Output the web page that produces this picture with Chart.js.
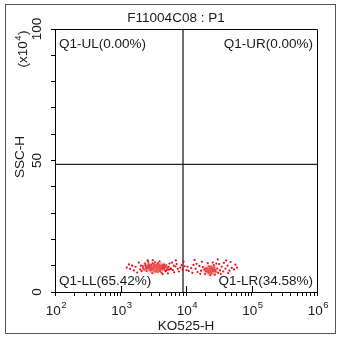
<!DOCTYPE html>
<html>
<head>
<meta charset="utf-8">
<script src="https://cdn.jsdelivr.net/npm/chart.js@4.4.1/dist/chart.umd.min.js"></script>
<style>
  html, body { margin: 0; padding: 0; background: #fff; }
  canvas { display: block; }
</style>
</head>
<body>
<canvas id="plot" width="345" height="345"></canvas>
<script>
// ---- data ----
const plotTitle = 'F11004C08 : P1';
const xTitle = 'KO525-H';
const yTitle = 'SSC-H';
const yUnitParts = ['(x10', '4', ')'];

const xMajorTicks = [100, 1000, 10000, 100000, 1000000];
const xTickExponents = ['2', '3', '4', '5', '6'];
const xMinorTicks = [200, 300, 400, 500, 600, 700, 800, 900,
  2000, 3000, 4000, 5000, 6000, 7000, 8000, 9000,
  20000, 30000, 40000, 50000, 60000, 70000, 80000, 90000,
  200000, 300000, 400000, 500000, 600000, 700000, 800000, 900000];
const yTicks = [0, 10, 20, 30, 40, 50, 60, 70, 80, 90, 100];
const yLabelTicks = [0, 50, 100];

const gateX = 9000;
const gateY = 48.5;
const quadLabels = ['Q1-UL(0.00%)', 'Q1-UR(0.00%)', 'Q1-LL(65.42%)', 'Q1-LR(34.58%)'];

// events in the lower-left population (KO525-H, SSC-H x10^4)
const llEvents = [
  [2600,9.5],[2800,9.0],[3000,9.8],[3200,8.7],[3400,9.3],[3600,9.9],[3800,8.9],[4100,9.4],[4400,8.6],
  [2400,10.2],[2200,9.1],[2000,8.6],[2700,10.6],[3100,10.9],[3500,8.1],[3900,10.3],[4300,9.9],[4700,9.1],
  [5100,8.4],[5400,9.6],[2900,8.2],[2500,8.0],[3300,7.8],[3700,7.6],[4000,8.0],[4600,10.4],[5000,10.1],
  [5800,9.0],[6300,8.3],[6900,9.7],[7500,8.8],[8200,9.3],[1700,9.6],[1500,10.0],[1400,8.8],[1900,11.2],
  [2100,7.9],[2300,8.5],[2650,11.5],[3050,7.2],[3350,11.3],[3750,11.0],[4200,7.4],[4900,7.9],[5600,10.8],
  [6100,11.2],[6600,7.5],[7200,10.6],[7800,7.8],[8600,10.2],[1600,8.2],[1800,7.4],[2450,9.7],[2750,9.3],
  [2950,9.0],[3150,9.6],[3450,9.1],[3650,9.5],[3850,9.7],[4050,8.8],[2550,8.9],[2850,8.6],[3250,10.1],
  [3550,10.4],[4500,9.5],[5200,9.2],[5900,8.7],[6500,10.0],[2350,10.8],[4800,8.2],[3950,11.7],[3100,12.1],
  [2600,12.0],[5300,7.1],[4400,6.8],[2050,10.0],[1250,9.3],[1350,10.5],[7000,12.0],[8900,8.5],[3500,9.3],
  [3000,9.2],[3700,8.5],[4200,10.0],[2800,9.9],[9500,9.8],[9200,11.6],
  [2700,9.2],[2900,9.6],[3100,9.1],[3300,9.5],[3500,9.7],[3700,9.1],[3900,9.5],[4100,9.0],[4300,9.3],
  [2550,9.2],[2750,8.7],[3050,8.5],[3350,8.8],[3650,8.7],[3950,8.5],[4250,8.9],[4600,9.0],[2650,10.1],
  [2950,10.3],[3250,10.5],[3600,10.2],[3950,9.9],[4500,10.2],[2450,9.0],[3800,9.3],[3400,9.9],[3200,9.2],
  [4800,9.6],[5500,8.5],[2200,9.8]
];
// events in the lower-right population
const lrEvents = [
  [22000,8.3],[24000,8.8],[26000,7.9],[23000,7.4],[25000,9.2],[27000,8.5],[21000,9.0],[20000,8.0],
  [28500,7.7],[30000,8.9],[19000,8.6],[24500,7.1],[22500,9.8],[26500,10.2],[18000,9.5],[17000,8.1],
  [16000,9.9],[15000,7.6],[14000,8.8],[13000,10.3],[12000,9.1],[11000,8.0],[10500,9.6],[31000,7.3],
  [33000,8.2],[35000,9.6],[37000,7.8],[40000,8.9],[43000,10.0],[46000,8.1],[50000,9.2],[54000,8.6],
  [57000,10.4],[29000,10.8],[25500,11.2],[21500,11.0],[19500,6.8],[23500,6.4],[27500,6.6],[32000,10.6],
  [38000,11.1],[17500,11.5],[14500,10.7],[12500,7.3],[34000,6.9],[44000,7.2],[20500,7.7],[23000,8.6],
  [25000,8.0],[27000,9.4],[28000,8.4],[24000,9.6],[22000,7.9],[26000,8.9],[48000,11.4],[16500,6.9],
  [13500,12.2],[41000,12.0],[30500,12.4],[60000,9.3],[10200,8.3],
  [23000,8.1],[24500,8.5],[25500,8.2],[22500,8.8],[26500,8.0],[21500,8.2],[24000,7.7],[23500,9.1],
  [25000,8.7],[27500,8.1],[20000,8.9],[22000,7.4]
];
// dense cores (drawn as a soft pink haze under the dots)
const llCore = [[2900,9.3],[3400,9.0],[3900,9.2],[2500,9.6],[4400,9.5],[3200,8.6],[3600,9.8]];
const lrCore = [[23500,8.3],[26000,8.6],[21000,8.6],[24500,7.8]];

const FONT = '"Liberation Sans", Arial, sans-serif';
const toXY = (arr) => arr.map(([x, y]) => ({ x, y }));

const decor = {
  id: 'decor',
  afterDraw(chart) {
    const ctx = chart.ctx;
    const a = chart.chartArea;
    const xs = chart.scales.x;
    const ys = chart.scales.y;
    ctx.save();

    // plot box: top and right edges
    ctx.strokeStyle = '#000';
    ctx.lineWidth = 1;
    ctx.beginPath();
    ctx.moveTo(Math.round(a.left), Math.round(a.top) + 0.5);
    ctx.lineTo(Math.round(a.right) + 0.5, Math.round(a.top) + 0.5);
    ctx.lineTo(Math.round(a.right) + 0.5, Math.round(a.bottom));
    ctx.stroke();

    // decade ticks also reach into the plot
    ctx.beginPath();
    xMajorTicks.forEach((v) => {
      const px = Math.round(xs.getPixelForValue(v)) + 0.5;
      ctx.moveTo(px, a.bottom - 6);
      ctx.lineTo(px, a.bottom);
    });
    ctx.stroke();

    // outer frame
    ctx.strokeStyle = '#555';
    ctx.strokeRect(5.5, 4.5, 330, 329);

    ctx.fillStyle = '#1a1a1a';
    ctx.textBaseline = 'middle';
    const big = '13.5px ' + FONT;
    const small = '9.5px ' + FONT;

    // title
    ctx.font = big;
    ctx.textAlign = 'center';
    ctx.fillText(plotTitle, 176, 18);

    // x tick labels 10^n
    xMajorTicks.forEach((v, i) => {
      const px = xs.getPixelForValue(v);
      ctx.font = big;
      const w10 = ctx.measureText('10').width;
      ctx.font = small;
      const we = ctx.measureText(xTickExponents[i]).width;
      const left = px + 1 - (w10 + we) / 2;
      ctx.textAlign = 'left';
      ctx.textBaseline = 'alphabetic';
      ctx.font = big;
      ctx.fillText('10', left, 315);
      ctx.font = small;
      ctx.fillText(xTickExponents[i], left + w10 + 0.5, 308);
    });

    // x title
    ctx.textBaseline = 'middle';
    ctx.textAlign = 'center';
    ctx.font = big;
    ctx.fillText(xTitle, (a.left + a.right) / 2, 326);

    // y tick labels (rotated)
    yLabelTicks.forEach((v) => {
      const py = ys.getPixelForValue(v);
      ctx.save();
      ctx.translate(37, py);
      ctx.rotate(-Math.PI / 2);
      ctx.textAlign = 'center';
      ctx.fillText(String(v), 0, 0);
      ctx.restore();
    });

    // y title
    ctx.save();
    ctx.translate(20, 157);
    ctx.rotate(-Math.PI / 2);
    ctx.fillText(yTitle, 0, 0);
    ctx.restore();

    // y unit (x10^4), superscript drawn smaller and raised
    ctx.save();
    ctx.translate(22, 49);
    ctx.rotate(-Math.PI / 2);
    ctx.textBaseline = 'alphabetic';
    ctx.font = big;
    const w1 = ctx.measureText(yUnitParts[0]).width;
    const w3 = ctx.measureText(yUnitParts[2]).width;
    ctx.font = small;
    const w2 = ctx.measureText(yUnitParts[1]).width;
    let ux = -(w1 + w2 + w3 + 1) / 2;
    ctx.textAlign = 'left';
    ctx.font = big;
    ctx.fillText(yUnitParts[0], ux, 5);
    ctx.font = small;
    ctx.fillText(yUnitParts[1], ux + w1 + 0.5, -1);
    ctx.font = big;
    ctx.fillText(yUnitParts[2], ux + w1 + w2 + 1, 5);
    ctx.restore();

    // quadrant labels
    ctx.font = big;
    ctx.textAlign = 'left';
    ctx.fillText(quadLabels[0], a.left + 4, a.top + 15);
    ctx.fillText(quadLabels[2], a.left + 4, a.bottom - 11);
    ctx.textAlign = 'right';
    ctx.fillText(quadLabels[1], a.right - 4, a.top + 15);
    ctx.fillText(quadLabels[3], a.right - 4, a.bottom - 11);

    ctx.restore();
  }
};

new Chart(document.getElementById('plot'), {
  type: 'scatter',
  data: {
    datasets: [
      { data: toXY(llCore.concat(lrCore)), pointRadius: 5, pointBorderWidth: 0,
        pointBackgroundColor: 'rgba(240, 110, 110, 0.3)' },
      { data: toXY(llEvents), pointRadius: 1.1, pointBorderWidth: 0,
        pointBackgroundColor: 'rgba(230, 0, 10, 0.95)' },
      { data: toXY(lrEvents), pointRadius: 1.1, pointBorderWidth: 0,
        pointBackgroundColor: 'rgba(230, 0, 10, 0.95)' },
      { data: [{ x: gateX, y: 0 }, { x: gateX, y: 100 }], showLine: true,
        borderColor: '#222', borderWidth: 1.3, pointRadius: 0 },
      { data: [{ x: 100, y: gateY }, { x: 1000000, y: gateY }], showLine: true,
        borderColor: '#222', borderWidth: 1.3, pointRadius: 0 },
    ],
  },
  options: {
    responsive: false,
    animation: false,
    devicePixelRatio: 1,
    layout: { padding: { top: 29, right: 28, left: 0, bottom: 0 } },
    plugins: { legend: { display: false }, tooltip: { enabled: false } },
    scales: {
      x: {
        type: 'logarithmic', min: 100, max: 1000000,
        afterBuildTicks: (s) => {
          s.ticks = xMajorTicks.concat(xMinorTicks).sort((p, q) => p - q).map((v) => ({ value: v }));
        },
        afterFit: (s) => { s.height = 53; },
        ticks: { display: false, autoSkip: false },
        grid: { drawOnChartArea: false, drawTicks: true, tickLength: 4, color: '#000' },
        border: { display: true, color: '#000', width: 1 },
      },
      y: {
        type: 'linear', min: 0, max: 100,
        afterBuildTicks: (s) => { s.ticks = yTicks.map((v) => ({ value: v })); },
        afterFit: (s) => { s.width = 55; },
        ticks: { display: false, autoSkip: false },
        grid: { drawOnChartArea: false, drawTicks: true, tickLength: 4, color: '#000' },
        border: { display: true, color: '#000', width: 1 },
      },
    },
  },
  plugins: [decor],
});
</script>
</body>
</html>
